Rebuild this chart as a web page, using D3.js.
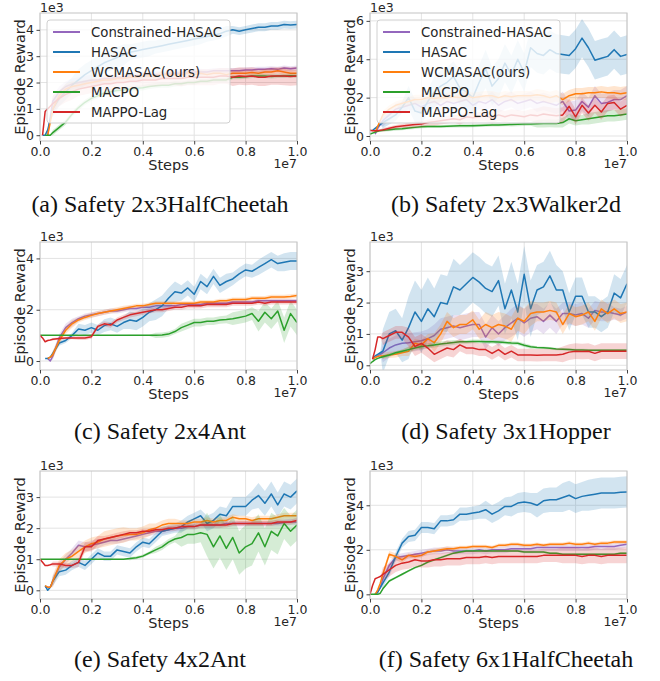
<!DOCTYPE html>
<html>
<head>
<meta charset="utf-8">
<script src="https://cdn.jsdelivr.net/npm/d3@7"></script>
<style>
  body { margin: 0; background: #fff; }
  svg { display: block; }
</style>
</head>
<body>
<div id="chart"></div>
<script>
// x positions in units of 1e7 steps
const steps = [0, 0.01, 0.02, 0.03, 0.04, 0.05,
  0.075, 0.1,
  0.125, 0.15, 0.175, 0.2,  0.225, 0.25, 0.275, 0.3,  0.325, 0.35, 0.375, 0.4,
  0.425, 0.45, 0.475, 0.5,  0.525, 0.55, 0.575, 0.6,  0.625, 0.65, 0.675, 0.7,
  0.725, 0.75, 0.775, 0.8,  0.825, 0.85, 0.875, 0.9,  0.925, 0.95, 0.975, 1.0];
// band half-widths are given every 0.1e7
const spreadSteps = [0, 0.1, 0.2, 0.3, 0.4, 0.5, 0.6, 0.7, 0.8, 0.9, 1.0];

const methods = ["Constrained-HASAC", "HASAC", "WCMASAC(ours)", "MACPO", "MAPPO-Lag"];
const colors = ["#9467bd", "#1f77b4", "#ff7f0e", "#2ca02c", "#d62728"];

// (a) Safety 2x3HalfCheetah
const a_chasac = [null, null, null, 0, 700, 1300,  1650, 1850,
  1950, 2000, 2050, 2100,  2100, 2150, 2150, 2200,  2200, 2250, 2250, 2250,  2300, 2300, 2300, 2350,
  2350, 2350, 2400, 2400,  2400, 2400, 2450, 2450,  2450, 2450, 2450, 2480,  2480, 2500, 2500, 2520,  2500, 2550, 2520, 2550];
const a_hasac = [null, 0, 0, 200, 600, 1000,  1400, 1650,
  1900, 2100, 2300, 2450,  2600, 2750, 2850, 2950,  3050, 3150, 3200, 3250,  3300, 3350, 3400, 3450,
  3500, 3550, 3600, 3650,  3700, 3750, 3800, 3850,  3950, 4000, 3950, 4000,  4050, 4100, 4100, 4150,  4150, 4200, 4180, 4200];
const a_wcmasac = [null, null, null, 0, 500, 1000,  1500, 1750,
  1850, 1900, 1950, 2000,  2050, 2100, 2100, 2150,  2150, 2200, 2200, 2250,  2250, 2250, 2300, 2300,
  2300, 2300, 2350, 2300,  2350, 2300, 2350, 2350,  2300, 2350, 2350, 2350,  2380, 2350, 2400, 2400,  2450, 2400, 2350, 2350];
const a_macpo = [null, null, 0, 0, 0, 100,  300, 500,
  800, 1050, 1250, 1400,  1500, 1600, 1650, 1700,  1720, 1750, 1780, 1800,  1850, 1880, 1900, 1900,
  1950, 1950, 2000, 2000,  2050, 2050, 2100, 2100,  2100, 2200, 2200, 2220,  2250, 2250, 2250, 2230,  2250, 2250, 2260, 2250];
const a_mappo = [null, 0, 900, 1000, 1100, 1200,  1400, 1550,
  1650, 1750, 1800, 1850,  1900, 1950, 1950, 2000,  2000, 2050, 2050, 2100,  2100, 2100, 2150, 2150,
  2150, 2150, 2200, 2200,  2200, 2200, 2200, 2250,  2250, 2200, 2250, 2230,  2250, 2200, 2200, 2250,  2250, 2250, 2230, 2250];
const a_spread = [
  [0, 200, 200, 150, 150, 150, 120, 100, 100, 100, 100],
  [0, 300, 400, 400, 300, 250, 250, 200, 150, 150, 150],
  [0, 200, 150, 150, 120, 120, 120, 100, 100, 100, 120],
  [0, 100, 100, 100, 100, 100, 80, 80, 80, 80, 80],
  [0, 300, 250, 250, 250, 250, 300, 300, 330, 330, 350]];

// (b) Safety 2x3Walker2d
const b_chasac = [null, null, 100, 400, 600, 800,  1100, 1400,
  1500, 1600, 1700, 1500,  1700, 1800, 1600, 1800,  1700, 1800, 1900, 1600,  1800, 1700, 1900, 1600,
  1800, 1900, 1700, 1800,  1900, 1700, 1800, 1700,  1600, 1800, 1300, 1350,  1800, 1500, 2100, 1700,  1750, 1900, 1900, 2100];
const b_hasac = [null, 300, 400, 500, 600, 700,  900, 1100,
  1500, 2000, 1300, 1200,  1800, 2300, 2600, 2800,  3100, 2500, 2300, 2000,  2800, 3500, 2600, 3000,
  3800, 3200, 4000, 3300,  4600, 4300, 4200, 4500,  4300, 4250, 4200, 4550,  5100, 4600, 3950, 4050,  4150, 4500, 4150, 4250];
const b_wcmasac = [null, null, 200, 500, 800, 1100,  1400, 1600,
  1700, 1800, 1900, 1900,  2000, 1950, 2000, 2000,  2050, 2000, 2100, 2000,  2050, 2100, 2100, 2000,
  2100, 2050, 2100, 2100,  2100, 2150, 2100, 2000,  2100, 1900, 2100, 2200,  2200, 2250, 2250, 2300,  2250, 2250, 2200, 2250];
const b_macpo = [100, 150, 200, 250, 280, 300,  330, 360,
  380, 420, 450, 480,  500, 500, 500, 510,  520, 530, 530, 540,  550, 560, 570, 580,
  590, 600, 610, 620,  630, 640, 650, 660,  650, 700, 900, 800,  850, 900, 950, 1000,  1050, 1050, 1100, 1150];
const b_mappo = [300, 280, 270, 280, 300, 320,  400, 480,
  520, 560, 600, 620,  700, 750, 800, 850,  900, 850, 1000, 950,  1000, 1050, 950, 1100,
  1000, 1100, 1050, 1000,  1100, 1050, 1150, 1100,  1050, 1100, 1550, 1000,  1600, 1200, 1600, 1250,  1700, 1750, 1400, 1600];
const b_spread = [
  [0, 300, 300, 400, 400, 400, 400, 450, 500, 500, 500],
  [0, 300, 600, 800, 900, 1000, 1000, 1000, 1000, 1000, 1000],
  [0, 200, 250, 250, 250, 250, 250, 300, 300, 300, 350],
  [50, 80, 80, 80, 80, 80, 100, 200, 250, 300, 300],
  [50, 100, 150, 200, 250, 300, 300, 400, 400, 400, 400]];

// (c) Safety 2x4Ant
const c_chasac = [null, null, null, 100, 0, 200,  900, 1300,
  1500, 1650, 1750, 1800,  1850, 1900, 1950, 1950,  2000, 2050, 2050, 2100,  2100, 2150, 2150, 2150,
  2150, 2200, 2200, 2200,  2200, 2250, 2250, 2250,  2250, 2300, 2300, 2300,  2300, 2350, 2350, 2350,  2350, 2350, 2350, 2350];
const c_hasac = [null, null, 100, 100, 150, 300,  700, 800,
  1000, 1250, 1200, 1300,  1200, 1380, 1450, 1350,  1500, 1600, 1550, 1700,  1900, 2000, 2150, 2450,
  2700, 2650, 2850, 2600,  3100, 2900, 3300, 2950,  3100, 3200, 3400, 3550,  3500, 3650, 3800, 3950,  3800, 3850, 3900, 3900];
const c_wcmasac = [null, null, null, 100, 150, 250,  800, 1200,
  1450, 1600, 1700, 1780,  1850, 1900, 1950, 2000,  2050, 2100, 2150, 2150,  2200, 2250, 2250, 2250,
  2250, 2250, 2250, 2250,  2300, 2300, 2300, 2350,  2350, 2400, 2400, 2400,  2450, 2450, 2450, 2500,  2500, 2500, 2520, 2550];
const c_macpo = [1000, 1000, 1000, 1000, 1000, 1000,  1000, 1000,
  1000, 1000, 1000, 1000,  1000, 1000, 1000, 1000,  1000, 1000, 1000, 1000,  1000, 1000, 1010, 1050,
  1150, 1300, 1400, 1500,  1500, 1550, 1550, 1600,  1620, 1650, 1700, 1750,  1850, 1550, 1900, 1650,  1950, 1200, 1850, 1500];
const c_mappo = [1000, 900, 750, 800, 820, 850,  880, 900,
  900, 900, 900, 950,  1350, 1450, 1400, 1600,  1700, 1800, 1850, 1900,  1950, 2000, 2000, 2050,
  2100, 2100, 2150, 2150,  2150, 2200, 2200, 2200,  2200, 2250, 2250, 2250,  2250, 2300, 2250, 2300,  2300, 2300, 2300, 2300];
const c_spread = [
  [0, 150, 100, 100, 100, 100, 80, 80, 80, 80, 80],
  [0, 100, 200, 250, 350, 400, 300, 300, 250, 300, 350],
  [0, 150, 100, 100, 80, 80, 80, 80, 80, 80, 80],
  [0, 0, 0, 0, 20, 100, 150, 150, 250, 400, 500],
  [0, 50, 80, 100, 100, 100, 100, 100, 100, 100, 100]];

// (d) Safety 3x1Hopper
const d_chasac = [null, 200, 250, 300, 350, 400,  550, 650,
  700, 720, 750, 780,  850, 950, 1150, 1200,  1250, 1200, 1250, 1300,  1300, 900, 1200, 1000,
  1200, 1350, 1500, 1350,  1500, 1550, 1400, 1600,  1400, 1650, 1650, 1600,  1650, 1500, 1750, 1700,  1700, 1650, 1600, 1700];
const d_hasac = [null, 200, 300, 350, 400, 450,  1000, 1100,
  800, 1200, 1700, 1400,  1800, 1550, 2000, 1950,  2500, 2400, 2600, 2800,  2650, 2450, 2350, 2700,
  1800, 2400, 1700, 2900,  1800, 2400, 2500, 2850,  2400, 2400, 1700, 2200,  2200, 1700, 1700, 1550,  1700, 2300, 2150, 2600];
const d_wcmasac = [null, 200, 250, 280, 300, 300,  330, 350,
  400, 450, 700, 650,  850, 720, 1000, 1400,  1200, 1300, 1300, 1450,  1150, 1300, 1200, 1300,
  1250, 1150, 1500, 1400,  1650, 1700, 1700, 1750,  1700, 1300, 1650, 1550,  1600, 1700, 1400, 1800,  1650, 1800, 1650, 1700];
const d_macpo = [50, 120, 180, 220, 250, 270,  330, 400,
  450, 500, 550, 600,  620, 650, 680, 700,  730, 750, 750, 760,  760, 750, 750, 740,
  730, 710, 700, 640,  590, 570, 560, 540,  520, 510, 500, 490,  490, 480, 480, 480,  480, 480, 480, 480];
const d_mappo = [null, 200, 500, 900, 900, 850,  950, 1050,
  1050, 900, 600, 700,  550, 350, 450, 550,  500, 650, 550, 550,  500, 500, 380, 500,
  350, 450, 330, 330,  330, 320, 330, 330,  330, 350, 420, 450,  440, 450, 380, 450,  450, 450, 450, 450];
const d_spread = [
  [0, 300, 300, 350, 400, 400, 450, 400, 350, 300, 200],
  [0, 700, 1000, 900, 800, 800, 900, 800, 600, 500, 600],
  [0, 100, 150, 300, 300, 400, 400, 300, 300, 300, 300],
  [0, 50, 80, 80, 60, 60, 60, 40, 40, 40, 40],
  [0, 200, 300, 250, 200, 200, 200, 200, 250, 250, 250]];

// (e) Safety 4x2Ant
const e_chasac = [null, null, 100, 100, 100, 300,  750, 1000,
  1200, 1450, 1400, 1450,  1500, 1550, 1600, 1600,  1650, 1700, 1750, 1800,  1850, 1900, 1900, 1950,
  2000, 2000, 2050, 2050,  2100, 2100, 2100, 2100,  2150, 2150, 2150, 2150,  2150, 2150, 2150, 2150,  2150, 2180, 2200, 2200];
const e_hasac = [null, null, 150, 0, 100, 300,  600, 650,
  800, 900, 800, 1000,  1200, 1100, 1100, 1300,  1250, 1200, 1400, 1550,  1500, 1700, 1900, 1950,
  2000, 2050, 2200, 2300,  2400, 2150, 2250, 2450,  2400, 2700, 2700, 2700,  2900, 3050, 2800, 3100,  2750, 3100, 3000, 3200];
const e_wcmasac = [null, null, 150, 100, 100, 300,  800, 1000,
  1100, 1250, 1400, 1500,  1550, 1650, 1700, 1750,  1780, 1800, 1800, 1850,  1950, 2000, 2100, 2150,
  2150, 2150, 2150, 2200,  2200, 2250, 2200, 2250,  2250, 2350, 2300, 2300,  2250, 2300, 2300, 2300,  2350, 2400, 2400, 2400];
const e_macpo = [1000, 1000, 1000, 1000, 1000, 1000,  1000, 1000,
  1000, 1000, 1000, 1000,  1000, 1000, 1000, 1000,  1000, 1020, 1050, 1100,  1200, 1300, 1400, 1550,
  1650, 1700, 1800, 1800,  1850, 1800, 1400, 1750,  1350, 1700, 1200, 1400,  1500, 1850, 1400, 1900,  1750, 2150, 1900, 2100];
const e_mappo = [1000, 900, 800, 800, 820, 850,  850, 800,
  800, 900, 1400, 1400,  1600, 1650, 1700, 1750,  1800, 1850, 1850, 1900,  1900, 1950, 1950, 2000,
  2000, 2050, 2050, 2050,  2100, 2100, 2100, 2100,  2100, 2150, 2150, 2150,  2150, 2150, 2150, 2150,  2200, 2200, 2200, 2250];
const e_spread = [
  [0, 150, 150, 100, 100, 100, 100, 100, 100, 100, 100],
  [0, 150, 150, 150, 150, 150, 200, 250, 300, 400, 400],
  [0, 200, 200, 250, 200, 150, 100, 100, 100, 100, 100],
  [0, 0, 0, 0, 50, 100, 300, 700, 700, 600, 500],
  [0, 80, 150, 100, 80, 80, 80, 80, 80, 80, 80]];

// (f) Safety 6x1HalfCheetah
const f_chasac = [null, null, 0, 100, 300, 700,  1300, 1650,
  1700, 1750, 1800, 1850,  1900, 1950, 1950, 2000,  1950, 1950, 1950, 1950,  2000, 1950, 2000, 2000,
  2000, 2050, 2050, 2050,  2050, 2100, 2100, 2100,  2100, 2100, 2100, 2100,  2100, 2100, 2150, 2150,  2150, 2150, 2200, 2250];
const f_hasac = [null, null, 0, 100, 300, 500,  1000, 1700,
  2300, 2600, 2650, 3000,  3000, 2950, 3300, 3300,  3350, 3600, 3600, 3650,  3700, 3800, 3600, 3750,
  3950, 3950, 4100, 4150,  4100, 4000, 4200, 4250,  4250, 4350, 4450, 4300,  4400, 4450, 4500, 4550,  4550, 4550, 4580, 4600];
const f_wcmasac = [null, null, 0, 200, 500, 900,  1800, 1700,
  1550, 1750, 1700, 1750,  1900, 1950, 2000, 2050,  2050, 2100, 2100, 2150,  2150, 2150, 2100, 2200,
  2200, 2250, 2250, 2200,  2200, 2250, 2200, 2250,  2250, 2250, 2300, 2250,  2250, 2300, 2250, 2300,  2300, 2350, 2350, 2350];
const f_macpo = [0, 0, 0, 0, 50, 250,  600, 750,
  900, 1050, 1200, 1300,  1450, 1550, 1650, 1750,  1850, 1900, 1950, 1950,  1950, 1950, 1950, 1950,
  1950, 1950, 1950, 1900,  1900, 1900, 1900, 1850,  1850, 1800, 1800, 1800,  1800, 1800, 1800, 1800,  1800, 1800, 1850, 1850];
const f_mappo = [0, 400, 700, 750, 800, 900,  1100, 1300,
  1400, 1450, 1550, 1500,  1500, 1550, 1550, 1600,  1600, 1600, 1650, 1650,  1650, 1700, 1650, 1700,
  1700, 1700, 1700, 1700,  1700, 1700, 1750, 1750,  1750, 1750, 1750, 1750,  1700, 1750, 1750, 1700,  1750, 1750, 1750, 1750];
const f_spread = [
  [0, 150, 150, 150, 150, 150, 150, 150, 150, 150, 150],
  [0, 200, 250, 250, 300, 400, 450, 550, 650, 700, 700],
  [0, 150, 100, 100, 80, 80, 80, 80, 80, 80, 80],
  [0, 50, 50, 50, 50, 50, 50, 50, 50, 50, 50],
  [0, 300, 300, 300, 300, 300, 300, 300, 350, 350, 350]];

const xTicks = [0, 0.2, 0.4, 0.6, 0.8, 1.0];
const ticks4 = [0, 1000, 2000, 3000, 4000];
const ticks6 = [0, 2000, 4000, 6000];
const ticks4b = [0, 2000, 4000];
const ticks3 = [0, 1000, 2000, 3000];

const panels = [
  { caption: "(a) Safety 2x3HalfCheetah", col: 0, row: 0, yDomain: [-220, 4640], yTicks: ticks4,
    means: [a_chasac, a_hasac, a_wcmasac, a_macpo, a_mappo], spreads: a_spread, legend: true },
  { caption: "(b) Safety 2x3Walker2d", col: 1, row: 0, yDomain: [-260, 6410], yTicks: ticks6,
    means: [b_chasac, b_hasac, b_wcmasac, b_macpo, b_mappo], spreads: b_spread, legend: true },
  { caption: "(c) Safety 2x4Ant", col: 0, row: 1, yDomain: [-350, 4640], yTicks: ticks4b,
    means: [c_chasac, c_hasac, c_wcmasac, c_macpo, c_mappo], spreads: c_spread },
  { caption: "(d) Safety 3x1Hopper", col: 1, row: 1, yDomain: [-150, 3930], yTicks: ticks3,
    means: [d_chasac, d_hasac, d_wcmasac, d_macpo, d_mappo], spreads: d_spread },
  { caption: "(e) Safety 4x2Ant", col: 0, row: 2, yDomain: [-280, 3840], yTicks: ticks3,
    means: [e_chasac, e_hasac, e_wcmasac, e_macpo, e_mappo], spreads: e_spread },
  { caption: "(f) Safety 6x1HalfCheetah", col: 1, row: 2, yDomain: [-210, 5540], yTicks: ticks4b,
    means: [f_chasac, f_hasac, f_wcmasac, f_macpo, f_mappo], spreads: f_spread }
];

const width = 660, height = 681;
const colX = [40, 370];
const rowY = [13, 242, 471];
const captionX = [160, 506];
const captionY = [212, 439, 667];
const W = 257, H = 128;
const sans = "'DejaVu Sans', sans-serif";
const textColor = "#262626";

const svg = d3.select("#chart").append("svg")
  .attr("width", width)
  .attr("height", height);

svg.append("rect").attr("width", width).attr("height", height).attr("fill", "#fff");

panels.forEach((p, pi) => {
  const g = svg.append("g")
    .attr("transform", `translate(${colX[p.col]},${rowY[p.row]})`);

  const x = d3.scaleLinear().domain([0, 1]).range([0, W]);
  const y = d3.scaleLinear().domain(p.yDomain).range([H, 0]);

  // grid
  g.append("g").selectAll("line").data(xTicks).join("line")
    .attr("x1", d => x(d)).attr("x2", d => x(d))
    .attr("y1", 0).attr("y2", H)
    .attr("stroke", "#e3e3e3").attr("stroke-width", 1);
  g.append("g").selectAll("line").data(p.yTicks).join("line")
    .attr("x1", 0).attr("x2", W)
    .attr("y1", d => y(d)).attr("y2", d => y(d))
    .attr("stroke", "#e3e3e3").attr("stroke-width", 1);

  g.append("clipPath").attr("id", "clip" + pi)
    .append("rect").attr("width", W).attr("height", H);

  const plot = g.append("g").attr("clip-path", `url(#clip${pi})`);

  p.means.forEach((mean, k) => {
    const data = steps.map((s, i) => ({
      x: s,
      m: mean[i],
      sd: p.spreads[k][Math.round(s * 10)]
    })).filter(d => d.m != null);

    const area = d3.area()
      .x(d => x(d.x))
      .y0(d => y(d.m - d.sd))
      .y1(d => y(d.m + d.sd));
    const line = d3.line()
      .x(d => x(d.x))
      .y(d => y(d.m));

    plot.append("path").datum(data)
      .attr("d", area)
      .attr("fill", colors[k])
      .attr("fill-opacity", 0.2);
    plot.append("path").datum(data)
      .attr("d", line)
      .attr("fill", "none")
      .attr("stroke", colors[k])
      .attr("stroke-width", 1.5)
      .attr("stroke-linejoin", "round");
  });

  // frame
  g.append("rect")
    .attr("width", W).attr("height", H)
    .attr("fill", "none")
    .attr("stroke", "#c4c4c4")
    .attr("stroke-width", 1);

  // axes
  const xAxis = g.append("g")
    .attr("transform", `translate(0,${H})`)
    .call(d3.axisBottom(x).tickValues(xTicks).tickFormat(d3.format(".1f")).tickSize(3.5).tickPadding(2.5));
  const yAxis = g.append("g")
    .call(d3.axisLeft(y).tickValues(p.yTicks).tickFormat(d => d / 1000).tickSize(3.5).tickPadding(2.5));
  [xAxis, yAxis].forEach(a => {
    a.select(".domain").remove();
    a.selectAll(".tick line").attr("stroke", "#444");
    a.selectAll("text").attr("font-family", sans).attr("font-size", "12.5px").attr("fill", textColor);
  });

  // offset labels
  g.append("text")
    .attr("x", 0).attr("y", -1)
    .attr("font-family", sans).attr("font-size", "12.5px").attr("fill", textColor)
    .text("1e3");
  g.append("text")
    .attr("x", W).attr("y", H + 27)
    .attr("text-anchor", "end")
    .attr("font-family", sans).attr("font-size", "12.5px").attr("fill", textColor)
    .text("1e7");

  // axis titles
  g.append("text")
    .attr("x", W / 2).attr("y", H + 29)
    .attr("text-anchor", "middle")
    .attr("font-family", sans).attr("font-size", "14.5px").attr("fill", textColor)
    .text("Steps");
  g.append("text")
    .attr("transform", `translate(-15,${H / 2}) rotate(-90)`)
    .attr("text-anchor", "middle")
    .attr("font-family", sans).attr("font-size", "14.5px").attr("fill", textColor)
    .text("Episode Reward");

  // legend
  if (p.legend) {
    const lg = g.append("g").attr("transform", "translate(7,7)");
    lg.append("rect")
      .attr("width", 183).attr("height", 103)
      .attr("rx", 3)
      .attr("fill", "#fff").attr("fill-opacity", 0.8)
      .attr("stroke", "#d0d0d0");
    methods.forEach((name, k) => {
      const ly = 12 + k * 20;
      lg.append("line")
        .attr("x1", 6).attr("x2", 33)
        .attr("y1", ly).attr("y2", ly)
        .attr("stroke", colors[k]).attr("stroke-width", 2);
      lg.append("text")
        .attr("x", 44).attr("y", ly)
        .attr("dy", "0.35em")
        .attr("font-family", sans).attr("font-size", "13.3px").attr("fill", textColor)
        .text(name);
    });
  }

  // caption
  svg.append("text")
    .attr("x", captionX[p.col]).attr("y", captionY[p.row])
    .attr("text-anchor", "middle")
    .attr("font-family", "'Liberation Serif', serif")
    .attr("font-size", "24px")
    .attr("fill", "#111")
    .text(p.caption);
});
</script>
</body>
</html>
